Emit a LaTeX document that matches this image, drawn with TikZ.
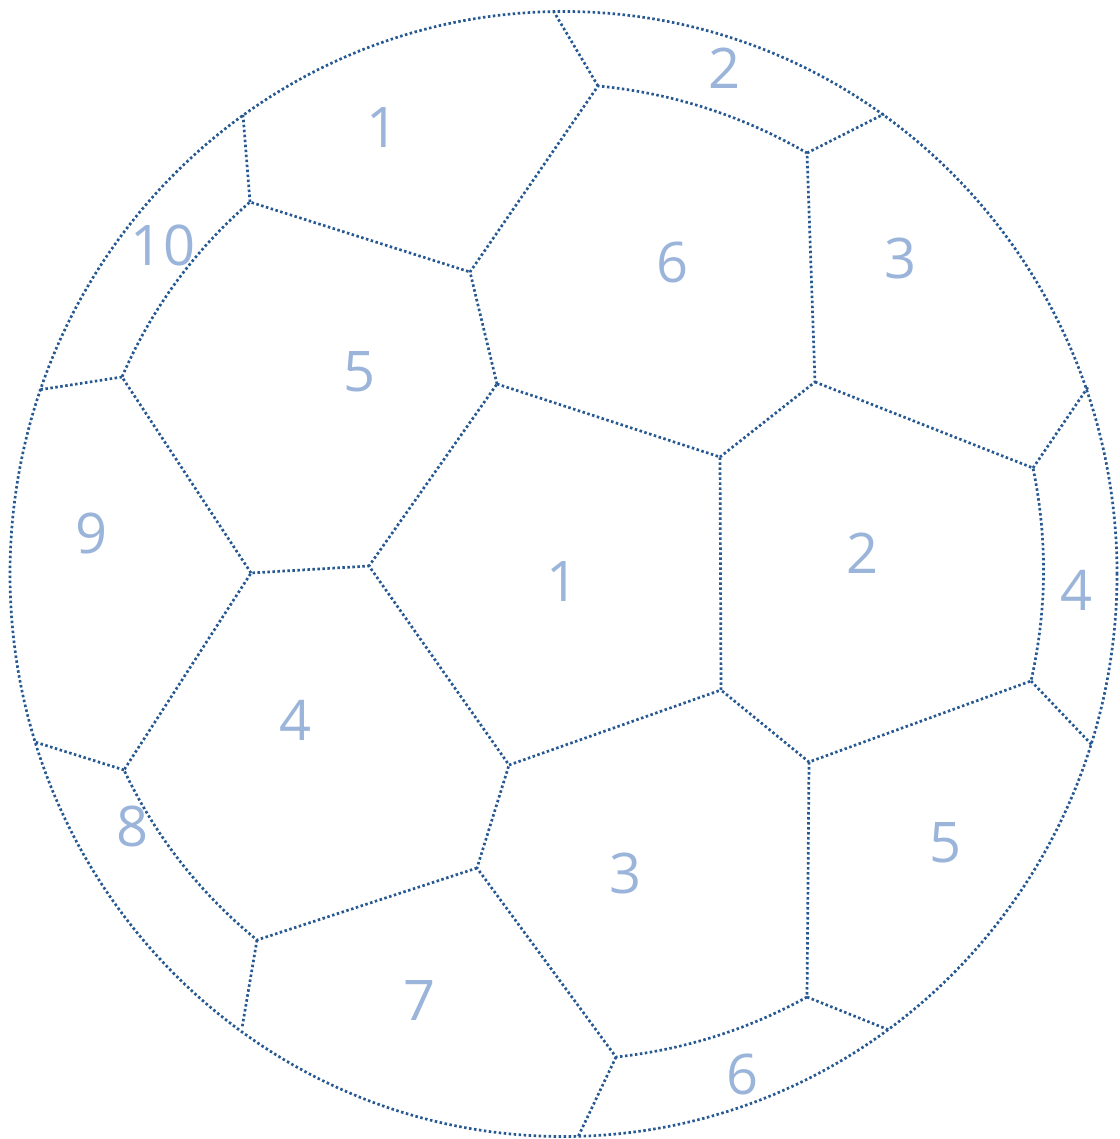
\documentclass[tikz,border=0pt]{standalone}
\usepackage{fontspec}
\setmainfont{Open Sans}
\definecolor{dotblue}{RGB}{38,88,145}
\definecolor{numblue}{RGB}{155,180,218}
\begin{document}
\begin{tikzpicture}[x=1pt,y=-1pt,
  seam/.style={draw=dotblue,line width=2.7pt,dash pattern=on 2.5pt off 2.5pt},
  num/.style={text=numblue,font=\fontsize{56}{60}\selectfont,inner sep=0pt}]
\useasboundingbox (0,0) rectangle (1119,1139);
% inner vertices
\coordinate (A) at (497,384);
\coordinate (B) at (720,457);
\coordinate (C) at (721,690);
\coordinate (D) at (509,765);
\coordinate (E) at (369,566);
\coordinate (F) at (470,272);
\coordinate (G) at (598,86);
\coordinate (H) at (807,153);
\coordinate (I) at (815,382);
\coordinate (J) at (1033,468);
\coordinate (K) at (1031,681);
\coordinate (L) at (809,762);
\coordinate (M) at (807,997);
\coordinate (N) at (616,1057);
\coordinate (O) at (477,868);
\coordinate (P) at (257,940);
\coordinate (Q) at (124,770);
\coordinate (R) at (251,573);
\coordinate (S) at (122,377);
\coordinate (T) at (250,202);
% points on the rim
\coordinate (c1) at (554,12);
\coordinate (c2) at (884,114);
\coordinate (c3) at (1088,387);
\coordinate (c4) at (1092,745);
\coordinate (c5) at (889,1030);
\coordinate (c6) at (578,1137);
\coordinate (c7) at (242,1028);
\coordinate (c8) at (35,742);
\coordinate (c9) at (38,390);
\coordinate (c10) at (243,115);
% rim
\draw[seam] (563.5,574) ellipse [x radius=553.5pt, y radius=562.5pt];
% central pentagon
\draw[seam] (A) -- (B) -- (C) -- (D) -- (E) -- cycle;
% hexagons ring
\draw[seam] (A) -- (F) -- (G) .. controls (672.3,93.1) and (742,115.4) .. (H) -- (I) -- (B);
\draw[seam] (I) -- (J) .. controls (1047.7,539) and (1047,610) .. (K) -- (L) -- (C);
\draw[seam] (L) -- (M) .. controls (747.7,1029.7) and (684,1049.7) .. (N) -- (O) -- (D);
\draw[seam] (O) -- (P) .. controls (199.7,893) and (155.3,836.3) .. (Q) -- (R) -- (E);
\draw[seam] (R) -- (S) .. controls (151.3,309) and (194,250.7) .. (T) -- (F);
% radial seams
\draw[seam] (G) -- (c1);
\draw[seam] (H) -- (c2);
\draw[seam] (J) -- (c3);
\draw[seam] (K) -- (c4);
\draw[seam] (M) -- (c5);
\draw[seam] (N) -- (c6);
\draw[seam] (P) -- (c7);
\draw[seam] (Q) -- (c8);
\draw[seam] (S) -- (c9);
\draw[seam] (T) -- (c10);
% labels
\node[num] (n1a) at (383,128) {1};
\node[num] (n2a) at (724,68) {2};
\node[num] (n10) at (163,245) {10};
\node[num] (n6a) at (672,262) {6};
\node[num] (n3a) at (900,258) {3};
\node[num] (n5a) at (360,372) {5};
\node[num] (n9) at (92,533) {9};
\node[num] (n1b) at (563,582) {1};
\node[num] (n2b) at (862,553) {2};
\node[num] (n4a) at (1076,590) {4};
\node[num] (n4b) at (296,720) {4};
\node[num] (n8) at (133,826) {8};
\node[num] (n3b) at (625,873) {3};
\node[num] (n5b) at (945,843) {5};
\node[num] (n7) at (420,1000) {7};
\node[num] (n6b) at (742,1074) {6};
\end{tikzpicture}
\end{document}
